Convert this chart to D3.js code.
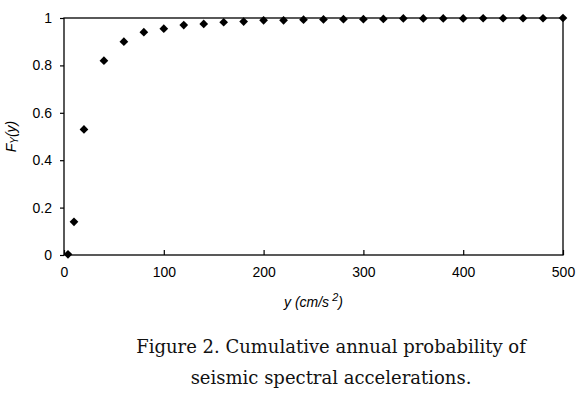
<!DOCTYPE html>
<html lang="en">
  <head>
    <meta charset="UTF-8" />
    <title>Cumulative annual probability</title>
    <script src="https://d3js.org/d3.v7.min.js"></script>
    <style>
      body { margin: 0; background: #fff; }
    </style>
  </head>
  <body>
    <div id="chart"></div>
    <script>
      // values
      var accel = [4, 10, 20, 40, 60, 80, 100, 120, 140, 160, 180, 200, 220, 240, 260, 280, 300, 320, 340, 360, 380, 400, 420, 440, 460, 480, 500];
      var prob = [0.003, 0.14, 0.53, 0.82, 0.90, 0.94, 0.955, 0.97, 0.975, 0.982, 0.985, 0.99, 0.99, 0.993, 0.994, 0.995, 0.995, 0.996, 0.998, 0.998, 0.998, 0.998, 0.999, 0.999, 0.999, 0.999, 1];
      var xTicks = [0, 100, 200, 300, 400, 500];
      var yTicks = [0, 0.2, 0.4, 0.6, 0.8, 1];

      var width = 580, height = 399;
      var plotL = 64, plotR = 563, plotT = 18, plotB = 255;

      var svg = d3.select("#chart").append("svg")
        .attr("width", width)
        .attr("height", height);

      var x = d3.scaleLinear().domain([0, 500]).range([plotL, plotR]);
      var y = d3.scaleLinear().domain([0, 1]).range([plotB, plotT]);

      // frame
      svg.append("rect")
        .attr("x", plotL).attr("y", plotT)
        .attr("width", plotR - plotL).attr("height", plotB - plotT)
        .attr("fill", "none").attr("stroke", "#000").attr("stroke-width", 1.3);

      var xAxis = svg.append("g")
        .attr("transform", "translate(0," + plotB + ")")
        .call(d3.axisBottom(x).tickValues(xTicks).tickSizeInner(-5).tickSizeOuter(0).tickPadding(12).tickFormat(d3.format("d")));
      xAxis.select(".domain").remove();
      xAxis.selectAll(".tick text").attr("dy", "0.71em").attr("y", 12);

      var yAxis = svg.append("g")
        .attr("transform", "translate(" + plotL + ",0)")
        .call(d3.axisLeft(y).tickValues(yTicks).tickSizeInner(4).tickSizeOuter(0).tickPadding(8).tickFormat(function (d) { return d === 0 || d === 1 ? d : d.toFixed(1); }));
      yAxis.select(".domain").remove();

      svg.selectAll(".tick line").attr("stroke", "#000").attr("stroke-width", 1.2);
      svg.selectAll(".tick text")
        .attr("fill", "#000")
        .style("font-family", "Liberation Sans, Arial, sans-serif")
        .style("font-size", "14px");

      var pts = accel.map(function (d, i) { return { a: d, p: prob[i] }; });
      svg.append("g").selectAll("path")
        .data(pts)
        .enter().append("path")
        .attr("d", d3.symbol().type(d3.symbolSquare).size(38))
        .attr("transform", function (d) { return "translate(" + x(d.a) + "," + y(d.p) + ") rotate(45)"; })
        .attr("fill", "#000");

      // axis titles
      var xt = svg.append("text")
        .attr("x", (plotL + plotR) / 2)
        .attr("y", 307)
        .attr("text-anchor", "middle")
        .style("font-family", "Liberation Sans, Arial, sans-serif")
        .style("font-size", "14px")
        .style("font-style", "italic");
      xt.append("tspan").text("y (cm/s");
      xt.append("tspan").attr("dy", -6).style("font-size", "11px").text(" 2");
      xt.append("tspan").attr("dy", 6).text(")");

      var yt = svg.append("text")
        .attr("transform", "translate(16," + ((plotT + plotB) / 2) + ") rotate(-90)")
        .attr("text-anchor", "middle")
        .style("font-family", "Liberation Sans, Arial, sans-serif")
        .style("font-size", "14px")
        .style("font-style", "italic");
      yt.append("tspan").text("F");
      yt.append("tspan").attr("dy", 2).style("font-size", "10px").text("Y");
      yt.append("tspan").attr("dy", -2).text("(y)");

      // caption
      var caption = ["Figure 2. Cumulative annual probability of", "seismic spectral accelerations."];
      svg.selectAll(".cap")
        .data(caption)
        .enter().append("text")
        .attr("class", "cap")
        .attr("x", 331)
        .attr("y", function (d, i) { return 353 + i * 31; })
        .attr("text-anchor", "middle")
        .style("font-family", "DejaVu Serif, serif")
        .style("font-size", "18px")
        .attr("fill", "#111")
        .text(function (d) { return d; });
    </script>
  </body>
</html>
